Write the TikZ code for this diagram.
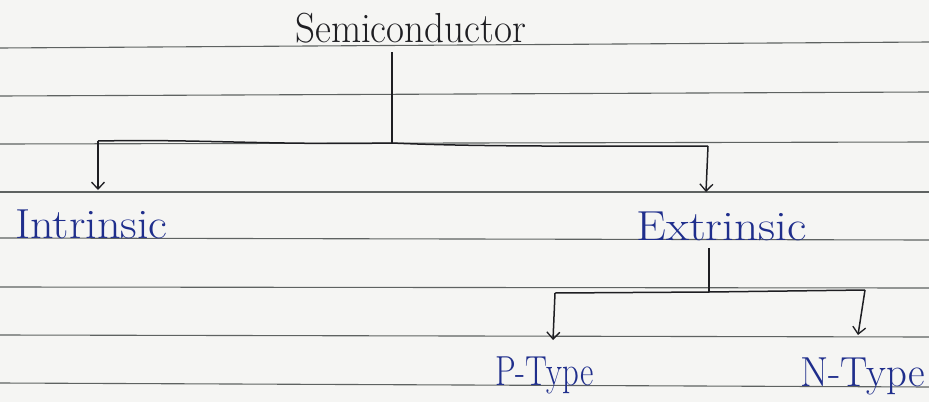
\documentclass[tikz,border=0pt]{standalone}
\usetikzlibrary{arrows.meta}
\definecolor{paper}{HTML}{F5F5F3}
\definecolor{rule}{HTML}{5E6261}
\definecolor{ink}{HTML}{1E1E22}
\definecolor{blueink}{HTML}{1F2E8C}
\begin{document}
\begin{tikzpicture}[x=1pt,y=-1pt,
  word/.style={inner sep=0pt, anchor=base west, font=\fontsize{42}{42}\selectfont},
  blackword/.style={word, text=ink},
  blueword/.style={word, text=blueink},
  link/.style={draw=ink, line width=1.5pt, line join=round},
  arrowlink/.style={link, -{Straight Barb[length=7pt,width=13pt,line width=1.3pt]}},
  ruling/.style={draw=rule, line width=1.1pt}]
% paper and ruled lines
\fill[paper] (0,0) rectangle (929,402);
\useasboundingbox (0,0) rectangle (929,402);
\foreach \yl/\yr in {48/42, 96/92, 144/142, 192/192, 238/240, 287/288, 335/337, 383/387}
  \draw[ruling] (0,\yl) -- (929,\yr);

% labels
\node[blackword] (semi) at (295,42) {\scalebox{0.93}[1]{Semiconductor}};
\node[blueword]  (intr) at (15,238) {\scalebox{1.10}[1]{Intrinsic}};
\node[blueword]  (extr) at (636,240) {\scalebox{1.13}[1]{Extrinsic}};
\node[blueword]  (ptyp) at (495,385) {\scalebox{0.78}[1]{P-Type}};
\node[blueword]  (ntyp) at (800,386) {\scalebox{0.97}[1]{N-Type}};

% junction points of the first branching
\coordinate (s0) at (392,52);
\coordinate (j1) at (392,143);
\coordinate (l1) at (98,141);
\coordinate (r1) at (708,146);
\coordinate (lt) at (98,190);
\coordinate (rt) at (706,192);
\draw[link] (s0) -- (j1);
\draw[link] (l1) .. controls (200,139) and (260,145) .. (j1)
            .. controls (480,147) and (600,146) .. (r1);
\draw[arrowlink] (l1) -- (lt);
\draw[arrowlink] (r1) -- (rt);

% second branching below Extrinsic
\coordinate (e0) at (709,248);
\coordinate (j2) at (709,292);
\coordinate (l2) at (555,293);
\coordinate (r2) at (865,290);
\coordinate (lt2) at (553,340);
\coordinate (rt2) at (858,335);
\draw[link] (e0) -- (j2);
\draw[link] (l2) -- (j2) -- (r2);
\draw[arrowlink] (l2) -- (lt2);
\draw[arrowlink] (r2) -- (rt2);
\end{tikzpicture}
\end{document}
